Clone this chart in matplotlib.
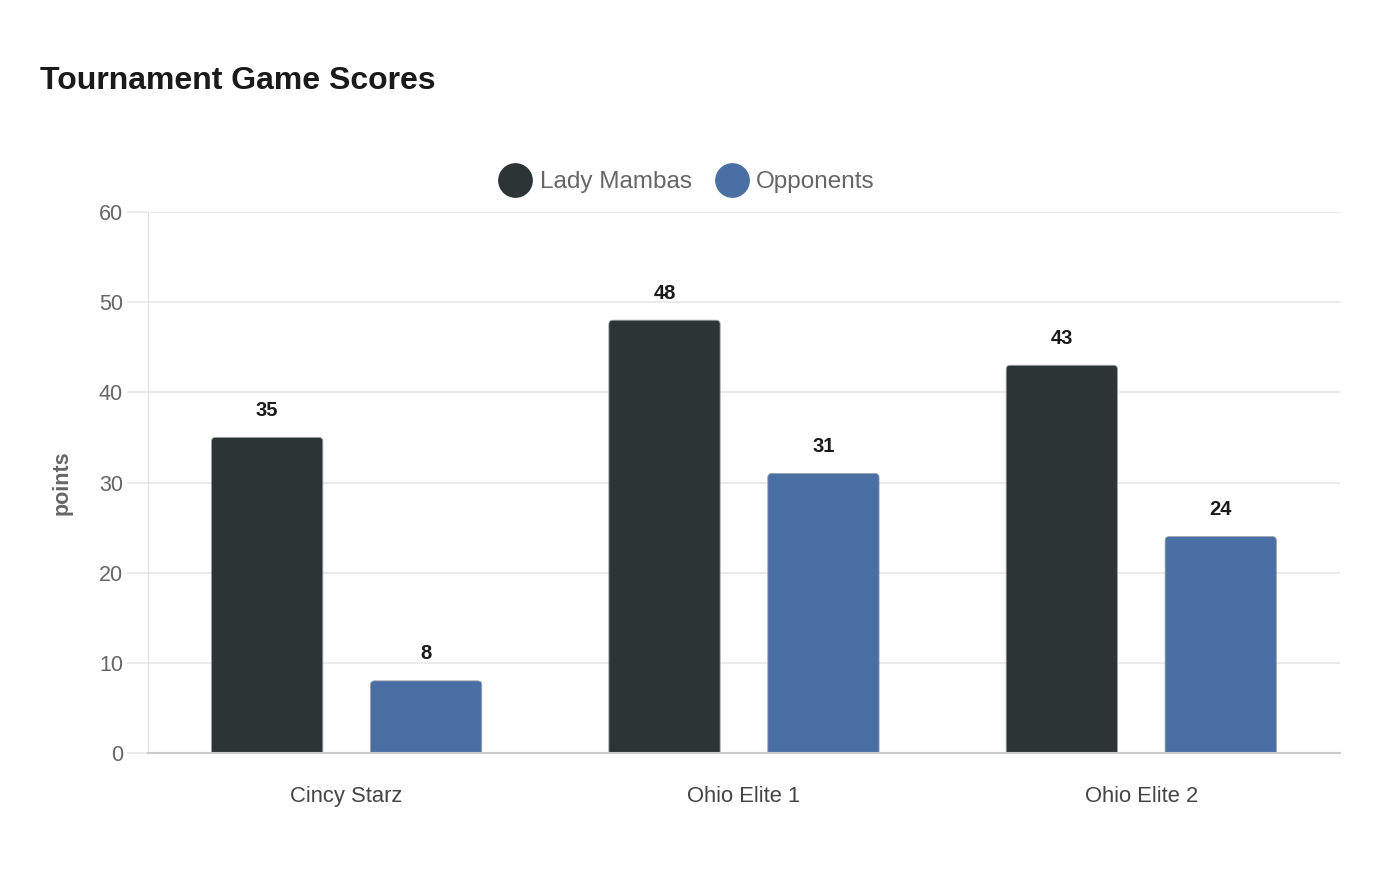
import matplotlib
matplotlib.use("Agg")
import matplotlib.pyplot as plt
from matplotlib.patches import FancyBboxPatch
from matplotlib.lines import Line2D

plt.rcParams['font.family'] = ['Liberation Sans', 'DejaVu Sans']

teams = ['Cincy Starz', 'Ohio Elite 1', 'Ohio Elite 2']
mambas = [35, 48, 43]
opponents = [8, 31, 24]
series_names = ['Lady Mambas', 'Opponents']
colors = ['#2d3436', '#4a6fa5']

fig = plt.figure(figsize=(14, 8.8), dpi=100)
ax = fig.add_axes([0.1057, 0.1443, 0.8514, 0.6148])

ax.set_xlim(-0.5, len(teams) - 0.5)
ax.set_ylim(0, 60)

width = 0.28
offset = 0.2
# pixel scale for rounding corners
px_x = (len(teams)) / (0.8514 * 1400)
px_y = 60 / (0.6148 * 880)
r = 4 * px_x
aspect = px_y / px_x

for vals, dx, col in [(mambas, -offset, colors[0]), (opponents, offset, colors[1])]:
    for i, v in enumerate(vals):
        x0 = i + dx - width / 2
        patch = FancyBboxPatch((x0, -2), width, v + 2,
                               boxstyle=f"round,pad=0,rounding_size={r}",
                               mutation_aspect=aspect,
                               facecolor=col, edgecolor='#9aa0a6', linewidth=0.6,
                               zorder=3, clip_on=True)
        ax.add_patch(patch)
        ax.text(i + dx, v + 3.0, str(v), ha='center', va='center',
                fontsize=14.5, fontweight='bold', color='#1a1a1a', zorder=4)

ax.set_yticks(range(0, 61, 10))
ax.grid(axis='y', color='#e8e8e8', linewidth=1.2, zorder=0)
ax.set_axisbelow(True)
ax.tick_params(axis='y', length=15, color='#e8e8e8', width=1.2, labelsize=15.5,
               labelcolor='#666666', pad=3)
ax.set_xticks(range(len(teams)))
ax.set_xticklabels(teams)
ax.tick_params(axis='x', length=0, labelsize=15.8, labelcolor='#444444', pad=24)

for s in ['top', 'right']:
    ax.spines[s].set_visible(False)
ax.spines['left'].set_color('#e0e0e0')
ax.spines['left'].set_linewidth(0.8)
ax.spines['bottom'].set_color('#cccccc')
ax.spines['bottom'].set_linewidth(1.5)
ax.spines['bottom'].set_zorder(5)

ax.set_ylabel('points', fontsize=15.5, fontweight='bold', color='#666666', labelpad=19)

handles = [Line2D([], [], marker='o', linestyle='none', markersize=24,
                  markerfacecolor=c, markeredgecolor=c) for c in colors]
fig.legend(handles, series_names, loc='center', bbox_to_anchor=(0.49, 0.793),
           ncol=2, frameon=False, fontsize=17.5, labelcolor='#666666',
           handletextpad=0.25, columnspacing=0.9, handlelength=1.5)

fig.text(0.0286, 0.908, 'Tournament Game Scores', fontsize=23, fontweight='bold',
         color='#1a1a1a', ha='left', va='center')

fig.savefig('out.png', dpi=100, facecolor='white')
